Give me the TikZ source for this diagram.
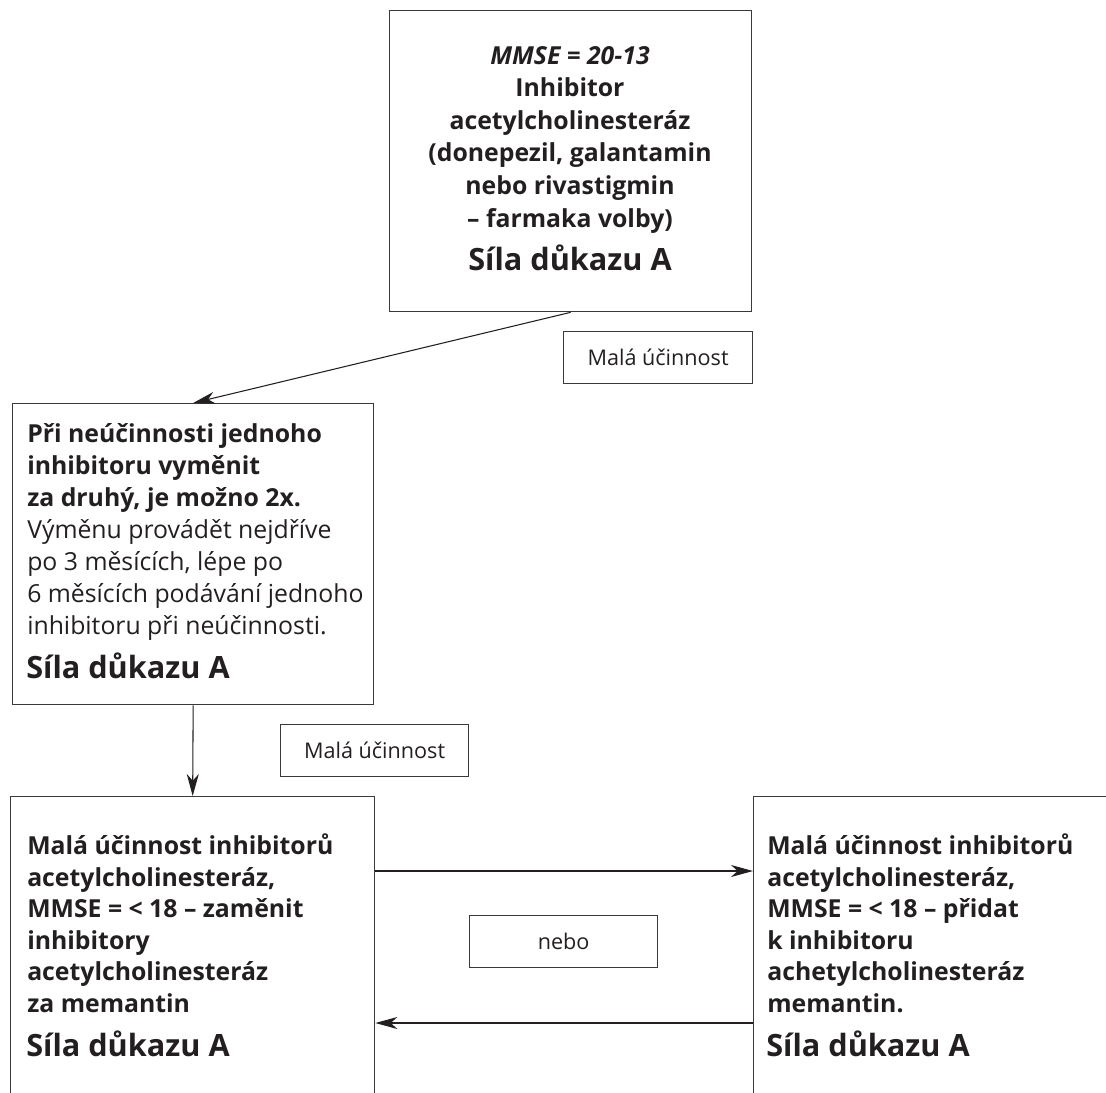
\documentclass[tikz,border=0pt]{standalone}
\usepackage{fontspec}
\setmainfont{Open Sans}
\usetikzlibrary{arrows.meta}
\definecolor{ink}{HTML}{231F20}
\definecolor{frame}{HTML}{3A3A3A}

\begin{document}
\begin{tikzpicture}[x=0.75pt,y=-0.75pt,
  box/.style={draw=frame,line width=1pt,rectangle,inner sep=0pt,anchor=north west},
  tag/.style={draw=frame,line width=0.9pt,rectangle,inner sep=0pt,anchor=north west,
    text=ink,font=\fontsize{16.2}{18}\selectfont},
  body/.style={inner sep=0pt,text=ink,font=\fontsize{18.6}{24}\selectfont\bfseries},
  sila/.style={inner sep=0pt,text=ink,font=\fontsize{23}{24}\selectfont\bfseries,anchor=base west},
  link/.style={draw=ink,line width=0.8pt,-{Stealth[length=16.5pt,width=9pt,inset=5pt]}}
]
\useasboundingbox (0,0) rectangle (1106,1092);
\clip (0,0) rectangle (1106,1092);

% frames
\node[box,minimum width=271.5pt,minimum height=225.75pt] (top) at (389,10) {};
\node[box,minimum width=270.75pt,minimum height=225.75pt] (b2) at (12,403) {};
\node[box,minimum width=273pt,minimum height=303pt] (b3) at (10,796) {};
\node[box,minimum width=271.5pt,minimum height=303pt] (b4) at (753,796) {};

% small labels
\node[tag,minimum width=141.75pt,minimum height=39pt] (l1) at (563,331) {Malá účinnost};
\node[tag,minimum width=141pt,minimum height=39pt] (l2) at (280,724) {Malá účinnost};
\node[tag,minimum width=141pt,minimum height=39pt] (l3) at (469,915) {nebo};

% texts (each block is anchored at the baseline of its last line)
\node[body,align=center,anchor=base,font=\fontsize{18.6}{24.4}\selectfont\bfseries] (topT) at (570,227)
  {\textit{MMSE = 20-13}\\Inhibitor\\acetylcholinesteráz\\(donepezil, galantamin\\nebo rivastigmin\\– farmaka volby)};
\node[sila,anchor=base] (topS) at (570,270) {Síla důkazu A};

\node[body,align=left,anchor=base west] (b2T) at (27,634)
  {Při neúčinnosti jednoho\\inhibitoru vyměnit\\za druhý, je možno 2x.\\
   \mdseries Výměnu provádět nejdříve\\\mdseries po 3 měsících, lépe po\\
   \mdseries 6 měsících podávání jednoho\\\mdseries inhibitoru při neúčinnosti.};
\node[sila] (b2S) at (26,678) {Síla důkazu A};

\node[body,align=left,anchor=base west,font=\fontsize{18.6}{23.6}\selectfont\bfseries] (b3T) at (27,1012)
  {Malá účinnost inhibitorů\\acetylcholinesteráz,\\MMSE = < 18 – zaměnit\\inhibitory\\acetylcholinesteráz\\za memantin};
\node[sila] (b3S) at (26,1056) {Síla důkazu A};

\node[body,align=left,anchor=base west,font=\fontsize{18.6}{23.6}\selectfont\bfseries] (b4T) at (767,1012)
  {Malá účinnost inhibitorů\\acetylcholinesteráz,\\MMSE = < 18 – přidat\\k inhibitoru\\achetylcholinesteráz\\memantin.};
\node[sila] (b4S) at (766,1056) {Síla důkazu A};

% connectors
\draw[link] (top.south) -- (b2.north);
\draw[link] (b2.south) -- (b3.north);
\draw[link] ([yshift=-56.25pt]b3.north east) -- ([yshift=-56.25pt]b4.north west);
\draw[link] ([yshift=-170.25pt]b4.north west) -- ([yshift=-170.25pt]b3.north east);
\end{tikzpicture}
\end{document}
